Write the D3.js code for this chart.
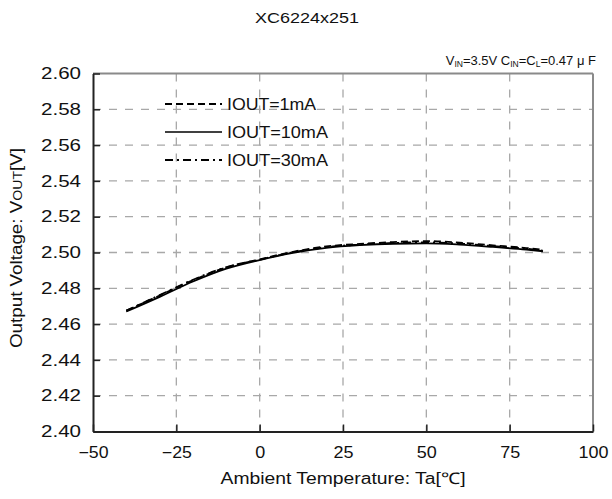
<!DOCTYPE html>
<html>
<head>
<meta charset="utf-8">
<script src="https://cdn.jsdelivr.net/npm/d3@7"></script>
<style>
  html, body { margin: 0; padding: 0; background: #fff; }
  svg { display: block; font-family: "Liberation Sans", Arial, sans-serif; }
</style>
</head>
<body>
<svg id="chart" width="612" height="499"></svg>
<script>
// ---- data ----
const temps = [-40, -30, -20, -10, 0, 10, 20, 30, 40, 50, 60, 70, 80, 85];
const iout1mA  = [2.4675, 2.4760, 2.4845, 2.4917, 2.4962, 2.5004, 2.5034, 2.5048, 2.5058, 2.5064, 2.5055, 2.5040, 2.5025, 2.5015];
const iout10mA = [2.4670, 2.4752, 2.4838, 2.4910, 2.4958, 2.4998, 2.5026, 2.5041, 2.5049, 2.5051, 2.5044, 2.5031, 2.5016, 2.5007];
const iout30mA = [2.4675, 2.4762, 2.4848, 2.4918, 2.4960, 2.5001, 2.5030, 2.5044, 2.5053, 2.5057, 2.5050, 2.5036, 2.5021, 2.5010];
const seriesNames = ["IOUT=1mA", "IOUT=10mA", "IOUT=30mA"];
const xTicks = [-50, -25, 0, 25, 50, 75, 100];
const yTicks = [2.40, 2.42, 2.44, 2.46, 2.48, 2.50, 2.52, 2.54, 2.56, 2.58, 2.60];

const svg = d3.select("#chart");
const L = 93, R = 593, T = 73.5, B = 431.5;
const x = d3.scaleLinear().domain([-50, 100]).range([L, R]);
const y = d3.scaleLinear().domain([2.40, 2.60]).range([B, T]);

// grid
const grid = svg.append("g").attr("stroke", "#a8a8a8").attr("stroke-width", 1.3).attr("stroke-dasharray", "8,8");
grid.selectAll("line.h").data(yTicks.slice(1, -1)).join("line")
  .attr("x1", L).attr("x2", R).attr("y1", d => y(d)).attr("y2", d => y(d));
grid.selectAll("line.v").data(xTicks.slice(1, -1)).join("line")
  .attr("y1", T).attr("y2", B).attr("x1", d => x(d)).attr("x2", d => x(d));

// top / right frame
svg.append("line").attr("x1", L).attr("x2", R).attr("y1", T).attr("y2", T).attr("stroke", "#8a8a8a").attr("stroke-width", 2);
svg.append("line").attr("x1", R).attr("x2", R).attr("y1", T).attr("y2", B).attr("stroke", "#8a8a8a").attr("stroke-width", 2);

// axes
const yAxis = svg.append("g").attr("transform", `translate(${L},0)`)
  .call(d3.axisLeft(y).tickValues(yTicks).tickSize(-7).tickSizeOuter(0).tickPadding(12).tickFormat(d3.format(".2f")));
const xAxis = svg.append("g").attr("transform", `translate(0,${B})`)
  .call(d3.axisBottom(x).tickValues(xTicks).tickSize(-7).tickSizeOuter(0).tickPadding(15).tickFormat(d => d < 0 ? "\u2212" + Math.abs(d) : d));
[yAxis, xAxis].forEach(a => {
  a.select(".domain").attr("stroke", "#222").attr("stroke-width", 2);
  a.selectAll(".tick line").attr("stroke", "#222").attr("stroke-width", 1.5);
  a.selectAll(".tick text").attr("font-size", 16).attr("fill", "#111")
    .attr("font-family", "'Liberation Sans', Arial, sans-serif");
});
yAxis.selectAll(".tick text").attr("textLength", 40).attr("lengthAdjust", "spacingAndGlyphs");
xAxis.selectAll(".tick text").each(function(d) {
  const s = String(Math.abs(d)).length + (d < 0 ? 1 : 0);
  d3.select(this).attr("textLength", s * 10).attr("lengthAdjust", "spacingAndGlyphs");
});

// lines
const dashes = ["7,4", null, "8,4,2,4"];
const seriesData = [iout1mA, iout10mA, iout30mA];
const line = d3.line().x((d, i) => x(temps[i])).y(d => y(d)).curve(d3.curveMonotoneX);
seriesData.forEach((s, k) => {
  svg.append("path").datum(s).attr("d", line)
    .attr("fill", "none").attr("stroke", "#000").attr("stroke-width", 1.8)
    .attr("stroke-dasharray", dashes[k]);
});

// legend
const legY = [104, 132, 160];
seriesNames.forEach((n, k) => {
  svg.append("line").attr("x1", 165).attr("x2", 222).attr("y1", legY[k]).attr("y2", legY[k])
    .attr("stroke", "#000").attr("stroke-width", k === 1 ? 1.3 : 2).attr("stroke-dasharray", dashes[k]);
  svg.append("text").attr("x", 227).attr("y", legY[k] + 6).attr("font-size", 16).attr("fill", "#111")
    .attr("textLength", k === 0 ? 89 : 101).attr("lengthAdjust", "spacingAndGlyphs").text(n);
});

// title
svg.append("text").attr("x", 307).attr("y", 23).attr("text-anchor", "middle").attr("font-size", 15)
  .attr("fill", "#111").attr("textLength", 104).attr("lengthAdjust", "spacingAndGlyphs").text("XC6224x251");

// annotation
const ann = svg.append("text").attr("x", 596).attr("y", 64.5).attr("text-anchor", "end").attr("font-size", 13).attr("fill", "#111");
ann.append("tspan").text("V");
ann.append("tspan").attr("font-size", 8.5).attr("dy", 2).text("IN");
ann.append("tspan").attr("dy", -2).text("=3.5V C");
ann.append("tspan").attr("font-size", 8.5).attr("dy", 2).text("IN");
ann.append("tspan").attr("dy", -2).text("=C");
ann.append("tspan").attr("font-size", 8.5).attr("dy", 2).text("L");
ann.append("tspan").attr("dy", -2).text("=0.47 \u03BC F");

// axis titles
svg.append("text").attr("x", (L + R) / 2).attr("y", 484).attr("text-anchor", "middle").attr("font-size", 16)
  .attr("fill", "#111").attr("textLength", 245).attr("lengthAdjust", "spacingAndGlyphs")
  .text("Ambient Temperature: Ta[\u2103]");
const yl = svg.append("text").attr("transform", "translate(22,248) rotate(-90)").attr("text-anchor", "middle")
  .attr("font-size", 16).attr("fill", "#111").attr("textLength", 200).attr("lengthAdjust", "spacingAndGlyphs");
yl.append("tspan").text("Output Voltage: V");
yl.append("tspan").attr("font-size", 12).text("OUT");
yl.append("tspan").text("[V]");
</script>
</body>
</html>
